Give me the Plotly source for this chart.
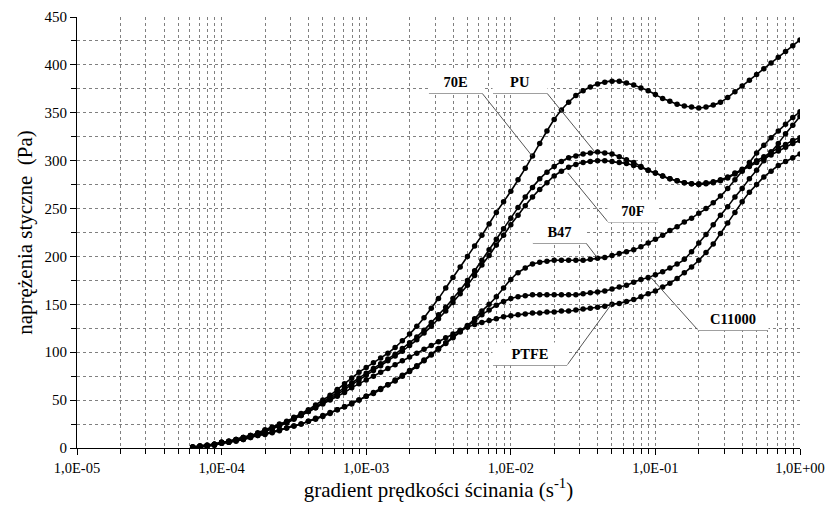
import numpy as np
import plotly.graph_objects as go

# log10 of shear rate (s^-1), sampled every 0.05 decade from 10^-4.2 to 10^0
log_rate = np.round(np.arange(-4.2, 0.0001, 0.05), 2)
rate = 10 ** log_rate

s_70E = [1, 2, 3, 4, 6, 7, 9, 11, 13, 16, 19, 22, 25, 28, 32, 36, 40, 45, 50, 55, 61, 67, 73, 79, 84, 89, 94, 99, 105, 112,
         119, 127, 136, 146, 156, 167, 178, 189, 200, 211, 222, 234, 246, 257, 268, 280, 292, 305, 318, 331, 343, 353, 361, 368, 373,
         377, 380, 382, 383, 383, 381, 379, 376, 373, 369, 365, 362, 359, 357, 356, 355, 356, 358, 361, 366, 372, 378, 384, 390, 396,
         402, 408, 414, 420, 426]
s_PU = [1, 2, 3, 4, 6, 7, 9, 11, 13, 15, 18, 21, 24, 27, 31, 35, 39, 43, 48, 53, 58, 63, 68, 73, 78, 83, 88, 93, 98, 104,
        110, 116, 123, 131, 139, 147, 156, 165, 175, 185, 196, 207, 218, 229, 240, 251, 262, 272, 281, 288, 294, 299, 303, 305, 307,
        308, 309, 308, 307, 304, 301, 298, 294, 290, 287, 284, 281, 279, 277, 276, 276, 277, 278, 280, 283, 287, 291, 295, 300, 304,
        309, 313, 317, 321, 324]
s_70F = [1, 1, 2, 4, 5, 6, 8, 10, 12, 14, 17, 20, 23, 26, 30, 34, 38, 42, 47, 51, 56, 61, 66, 71, 76, 81, 86, 91, 96, 101,
         107, 113, 120, 127, 135, 143, 152, 161, 170, 180, 191, 201, 212, 222, 233, 243, 253, 262, 270, 277, 284, 289, 293, 296, 298,
         299, 300, 300, 299, 298, 297, 295, 293, 290, 287, 284, 281, 279, 277, 276, 275, 276, 277, 279, 282, 286, 290, 294, 298, 302,
         306, 310, 314, 318, 321]
s_B47 = [0, 1, 2, 3, 5, 6, 8, 9, 11, 13, 15, 17, 19, 21, 23, 25, 28, 31, 34, 37, 40, 43, 47, 50, 54, 58, 62, 66, 71, 76,
         81, 86, 92, 98, 104, 110, 116, 122, 128, 135, 143, 150, 158, 167, 176, 183, 188, 192, 194, 195, 196, 196, 196, 196, 196,
         197, 198, 199, 201, 203, 205, 207, 210, 214, 218, 222, 227, 231, 236, 240, 245, 250, 256, 263, 271, 280, 289, 298, 308, 316,
         324, 331, 338, 345, 351]
s_C11000 = [0, 1, 2, 3, 5, 6, 7, 9, 11, 13, 14, 16, 18, 21, 23, 25, 28, 30, 33, 36, 40, 43, 46, 50, 54, 57, 61, 66, 70, 75,
            80, 85, 91, 97, 103, 109, 115, 121, 127, 133, 139, 144, 149, 153, 156, 158, 159, 160, 160, 160, 160, 160, 160, 160, 161,
            162, 163, 164, 166, 168, 170, 173, 176, 178, 181, 184, 188, 192, 197, 205, 214, 223, 233, 243, 252, 262, 271, 281, 290, 300,
            309, 318, 328, 337, 346]
s_PTFE = [1, 2, 3, 4, 6, 7, 9, 11, 13, 15, 18, 21, 24, 27, 31, 34, 38, 42, 46, 50, 54, 58, 63, 67, 71, 75, 79, 83, 87, 91,
          95, 99, 103, 107, 111, 115, 119, 123, 126, 129, 131, 133, 135, 137, 138, 139, 140, 141, 141, 142, 142, 143, 143, 144, 145,
          146, 147, 148, 150, 151, 153, 155, 158, 161, 164, 168, 172, 177, 183, 189, 196, 204, 213, 224, 235, 246, 257, 267, 275, 283,
          289, 295, 299, 303, 307]

series = {"70E": s_70E, "PU": s_PU, "70F": s_70F, "B47": s_B47, "C11000": s_C11000, "PTFE": s_PTFE}

# callout labels: underline span (log10 rate) and its stress, which end the leader starts from, target point on curve
callout_names = ["70E", "PU", "70F", "B47", "C11000", "PTFE"]
callout_underline = [(-2.566, -2.199, 370.5), (-2.123, -1.750, 370.5), (-1.328, -0.982, 236),
                     (-1.847, -1.480, 214), (-0.705, -0.221, 123), (-2.123, -1.611, 86.5)]
callout_anchor_end = ["right", "right", "left", "right", "left", "right"]
callout_target = [(-1.853, 305), (-1.418, 309), (-1.605, 287), (-1.404, 199), (-1.037, 179), (-1.300, 151)]

x_tickvals = [1e-5, 1e-4, 1e-3, 1e-2, 1e-1, 1]
x_ticktext = ["1,0E-05", "1,0E-04", "1,0E-03", "1,0E-02", "1,0E-01", "1,0E+00"]

serif = "Liberation Serif, Times New Roman, serif"
W, H = 828, 507
ML, MR, MT, MB = 77, 28, 17, 59
px_per_decade = (W - ML - MR) / 5.0
px_per_unit = (H - MT - MB) / 450.0

fig = go.Figure()

for name, vals in series.items():
    fig.add_trace(go.Scatter(
        x=rate, y=vals, name=name, mode="lines+markers",
        line=dict(color="black", width=1.6, shape="spline"),
        marker=dict(color="black", size=5.5, symbol="circle"),
        hoverinfo="name+x+y", showlegend=False))

box_h = 22
for i, nm in enumerate(callout_names):
    l0, l1, sy = callout_underline[i]
    start = l1 if callout_anchor_end[i] == "right" else l0
    tx, ty = callout_target[i]
    fig.add_trace(go.Scatter(x=[10 ** start, 10 ** tx], y=[sy, ty], mode="lines",
                             line=dict(color="#555555", width=1), hoverinfo="skip", showlegend=False))
    fig.add_annotation(x=(l0 + l1) / 2, y=sy + (box_h / 2) / px_per_unit, xref="x", yref="y",
                       text="<b>%s</b>" % nm, showarrow=False,
                       font=dict(family=serif, size=14.5, color="black"),
                       bgcolor="white", borderpad=0,
                       width=(l1 - l0) * px_per_decade, height=box_h, align="center", valign="middle")
    fig.add_trace(go.Scatter(x=[10 ** l0, 10 ** l1], y=[sy, sy], mode="lines",
                             line=dict(color="black", width=1.3), hoverinfo="skip", showlegend=False))

fig.update_xaxes(
    type="log", range=[-5, 0], tickvals=x_tickvals, ticktext=x_ticktext,
    showgrid=True, gridcolor="#808080", griddash="dot", gridwidth=1,
    ticks="outside", ticklen=6, tickcolor="black",
    showline=True, linecolor="black", linewidth=1.2,
    tickfont=dict(family=serif, size=14.5, color="black"),
    minor=dict(dtick="D1", showgrid=True, gridcolor="#808080", griddash="dot", gridwidth=1,
               ticks="outside", ticklen=5, tickcolor="black"),
    title=dict(text="gradient prędkości ścinania (s<sup>-1</sup>)",
               font=dict(family=serif, size=21, color="black"), standoff=4),
    zeroline=False, automargin=False)

fig.update_yaxes(
    range=[0, 450], dtick=50, tick0=0,
    showgrid=True, gridcolor="#808080", griddash="dot", gridwidth=1,
    ticks="outside", ticklen=6, tickcolor="black",
    showline=True, linecolor="black", linewidth=1.2,
    tickfont=dict(family=serif, size=15, color="black"),
    minor=dict(dtick=25, showgrid=True, gridcolor="#808080", griddash="dot", gridwidth=1,
               ticks="outside", ticklen=5, tickcolor="black"),
    title=dict(text="naprężenia styczne  (Pa)",
               font=dict(family=serif, size=21, color="black"), standoff=6),
    zeroline=False, automargin=False)

fig.update_layout(
    width=W, height=H,
    margin=dict(l=ML, r=MR, t=MT, b=MB),
    plot_bgcolor="white", paper_bgcolor="white",
    showlegend=False)

fig.write_html("out.html")
